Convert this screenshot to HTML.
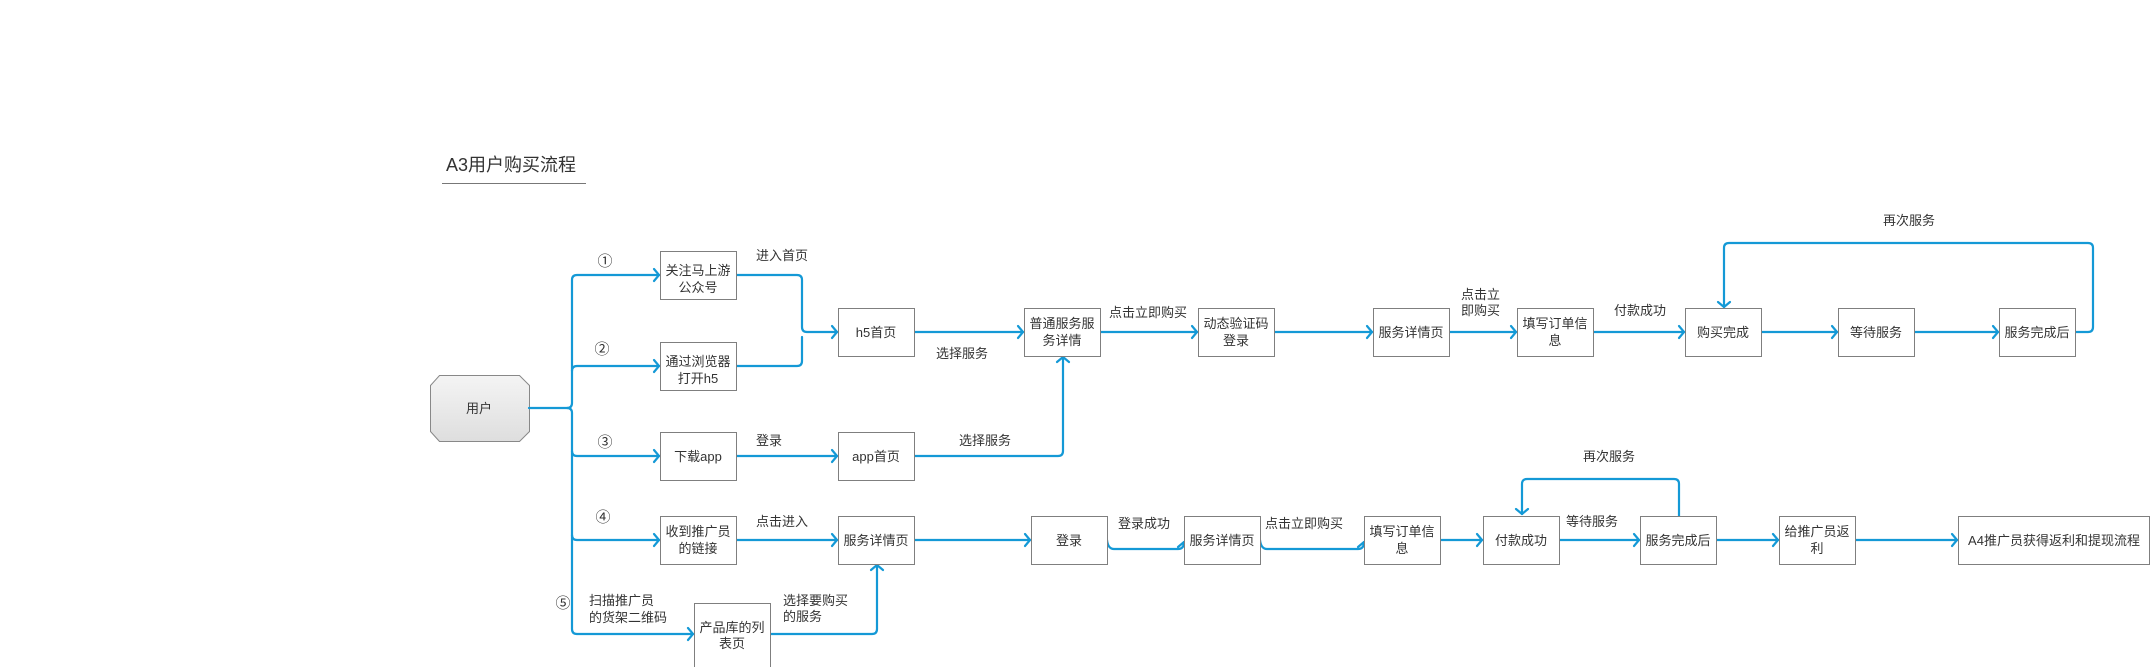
<!DOCTYPE html>
<html><head><meta charset="utf-8"><style>
html,body{margin:0;padding:0;background:#fff;}
svg{display:block;}
text{font-family:"Liberation Sans","Noto Sans CJK SC",sans-serif;fill:#333;font-size:13px;}
.b{fill:#fff;stroke:#7f7f7f;stroke-width:1;}
.c{fill:none;stroke:#1499d6;stroke-width:2.2;stroke-linejoin:round;stroke-linecap:round;}
.m{text-anchor:middle;}
.n{text-anchor:middle;font-size:15px;}
</style></head><body>
<svg width="2151" height="667" viewBox="0 0 2151 667" xmlns="http://www.w3.org/2000/svg">
<defs>
<linearGradient id="g" x1="0" y1="0" x2="0" y2="1"><stop offset="0" stop-color="#f4f4f4"/><stop offset="1" stop-color="#dedede"/></linearGradient>
</defs>
<!-- title -->
<text x="446" y="171" style="font-size:18px">A3用户购买流程</text>
<line x1="442" y1="183.5" x2="586" y2="183.5" stroke="#777" stroke-width="1"/>

<!-- user -->
<polygon points="439.5,375.5 519.5,375.5 529.5,385.5 529.5,431.5 519.5,441.5 439.5,441.5 430.5,431.5 430.5,385.5" fill="url(#g)" stroke="#888" stroke-width="1"/>
<text class="m" x="479" y="413">用户</text>

<!-- connectors -->
<path class="c" d="M529,408 H567 Q572,408 572,403 V280 Q572,275 577,275 H659"/>
<path class="c" d="M572,371 Q572,366 577,366 H659"/>
<path class="c" d="M567,408 Q572,408 572,413 V451 Q572,456 577,456 H659"/>
<path class="c" d="M572,451 V535 Q572,540 577,540 H659"/>
<path class="c" d="M572,535 V629 Q572,634 577,634 H693"/>
<path class="c" d="M736,275 H797 Q802,275 802,280 V327 Q802,332 807,332 H837"/>
<path class="c" d="M736,366 H797 Q802,366 802,361 V337"/>
<path class="c" d="M914,332 H1023"/>
<path class="c" d="M1100,332 H1197"/>
<path class="c" d="M1274,332 H1372"/>
<path class="c" d="M1449,332 H1516"/>
<path class="c" d="M1593,332 H1684"/>
<path class="c" d="M1761,332 H1837"/>
<path class="c" d="M1914,332 H1998"/>
<path class="c" d="M2075,332 H2088 Q2093,332 2093,327 V248 Q2093,243 2088,243 H1729 Q1724,243 1724,248 V307"/>
<path class="c" d="M736,456 H837"/>
<path class="c" d="M914,456 H1058 Q1063,456 1063,451 V357"/>
<path class="c" d="M736,540 H837"/>
<path class="c" d="M914,540 H1030"/>
<path class="c" d="M1107,540 Q1108,549 1114,549 H1178 Q1184,549 1184,542"/>
<path class="c" d="M1260,540 Q1261,549 1267,549 H1358 Q1364,549 1364,542"/>
<path class="c" d="M1440,540 H1482"/>
<path class="c" d="M1559,540 H1639"/>
<path class="c" d="M1679,516 V484 Q1679,479 1674,479 H1527 Q1522,479 1522,484 V514"/>
<path class="c" d="M1716,540 H1778"/>
<path class="c" d="M1855,540 H1957"/>
<path class="c" d="M770,634 H872 Q877,634 877,629 V565"/>

<!-- arrowheads right -->
<g class="c">
<path d="M654,269 L659,275 L654,281"/>
<path d="M654,360 L659,366 L654,372"/>
<path d="M654,450 L659,456 L654,462"/>
<path d="M654,534 L659,540 L654,546"/>
<path d="M688,628 L693,634 L688,640"/>
<path d="M832,326 L837,332 L832,338"/>
<path d="M832,450 L837,456 L832,462"/>
<path d="M832,534 L837,540 L832,546"/>
<path d="M1018,326 L1023,332 L1018,338"/>
<path d="M1192,326 L1197,332 L1192,338"/>
<path d="M1367,326 L1372,332 L1367,338"/>
<path d="M1511,326 L1516,332 L1511,338"/>
<path d="M1679,326 L1684,332 L1679,338"/>
<path d="M1832,326 L1837,332 L1832,338"/>
<path d="M1993,326 L1998,332 L1993,338"/>
<path d="M1025,534 L1030,540 L1025,546"/>
<path d="M1477,534 L1482,540 L1477,546"/>
<path d="M1634,534 L1639,540 L1634,546"/>
<path d="M1773,534 L1778,540 L1773,546"/>
<path d="M1952,534 L1957,540 L1952,546"/>
<!-- up -->
<path d="M1057,362 L1063,357 L1069,362"/>
<path d="M871,570 L877,565 L883,570"/>
<path d="M1178,547 L1184,542 L1190,547"/>
<path d="M1358,547 L1364,542 L1370,547"/>
<!-- down -->
<path d="M1718,302 L1724,307 L1730,302"/>
<path d="M1516,509 L1522,514 L1528,509"/>
</g>

<!-- boxes -->
<rect class="b" x="660.5" y="251.5" width="76" height="48"/>
<text class="m" x="698" y="275">关注马上游</text><text class="m" x="698" y="292">公众号</text>
<rect class="b" x="660.5" y="342.5" width="76" height="48"/>
<text class="m" x="698" y="366">通过浏览器</text><text class="m" x="698" y="383">打开h5</text>
<rect class="b" x="660.5" y="432.5" width="76" height="48"/>
<text class="m" x="698" y="461">下载app</text>
<rect class="b" x="660.5" y="516.5" width="76" height="48"/>
<text class="m" x="698" y="536">收到推广员</text><text class="m" x="698" y="553">的链接</text>
<rect class="b" x="694.5" y="603.5" width="76" height="64"/>
<text class="m" x="732" y="632">产品库的列</text><text class="m" x="732" y="648">表页</text>

<rect class="b" x="838.5" y="308.5" width="76" height="48"/>
<text class="m" x="876" y="337">h5首页</text>
<rect class="b" x="838.5" y="432.5" width="76" height="48"/>
<text class="m" x="876" y="461">app首页</text>
<rect class="b" x="838.5" y="516.5" width="76" height="48"/>
<text class="m" x="876" y="545">服务详情页</text>

<rect class="b" x="1024.5" y="308.5" width="76" height="48"/>
<text class="m" x="1062" y="328">普通服务服</text><text class="m" x="1062" y="345">务详情</text>
<rect class="b" x="1198.5" y="308.5" width="76" height="48"/>
<text class="m" x="1236" y="328">动态验证码</text><text class="m" x="1236" y="345">登录</text>
<rect class="b" x="1373.5" y="308.5" width="76" height="48"/>
<text class="m" x="1411" y="337">服务详情页</text>
<rect class="b" x="1517.5" y="308.5" width="76" height="48"/>
<text class="m" x="1555" y="328">填写订单信</text><text class="m" x="1555" y="345">息</text>
<rect class="b" x="1685.5" y="308.5" width="76" height="48"/>
<text class="m" x="1723" y="337">购买完成</text>
<rect class="b" x="1838.5" y="308.5" width="76" height="48"/>
<text class="m" x="1876" y="337">等待服务</text>
<rect class="b" x="1999.5" y="308.5" width="76" height="48"/>
<text class="m" x="2037" y="337">服务完成后</text>

<rect class="b" x="1031.5" y="516.5" width="76" height="48"/>
<text class="m" x="1069" y="545">登录</text>
<rect class="b" x="1184.5" y="516.5" width="76" height="48"/>
<text class="m" x="1222" y="545">服务详情页</text>
<rect class="b" x="1364.5" y="516.5" width="76" height="48"/>
<text class="m" x="1402" y="536">填写订单信</text><text class="m" x="1402" y="553">息</text>
<rect class="b" x="1483.5" y="516.5" width="76" height="48"/>
<text class="m" x="1521" y="545">付款成功</text>
<rect class="b" x="1640.5" y="516.5" width="76" height="48"/>
<text class="m" x="1678" y="545">服务完成后</text>
<rect class="b" x="1779.5" y="516.5" width="76" height="48"/>
<text class="m" x="1817" y="536">给推广员返</text><text class="m" x="1817" y="553">利</text>
<rect class="b" x="1958.5" y="516.5" width="191" height="48"/>
<text class="m" x="2054" y="545">A4推广员获得返利和提现流程</text>

<!-- labels -->
<text class="n" x="605" y="266">①</text>
<text class="n" x="602" y="354">②</text>
<text class="n" x="605" y="447">③</text>
<text class="n" x="603" y="522">④</text>
<text class="n" x="563" y="608">⑤</text>
<text x="756" y="260">进入首页</text>
<text x="936" y="358">选择服务</text>
<text x="1109" y="317">点击立即购买</text>
<text x="1461" y="299">点击立</text><text x="1461" y="315">即购买</text>
<text x="1614" y="315">付款成功</text>
<text x="1883" y="225">再次服务</text>
<text x="756" y="445">登录</text>
<text x="959" y="445">选择服务</text>
<text x="756" y="526">点击进入</text>
<text x="1118" y="528">登录成功</text>
<text x="1265" y="528">点击立即购买</text>
<text x="1566" y="526">等待服务</text>
<text x="1583" y="461">再次服务</text>
<text x="589" y="605">扫描推广员</text><text x="589" y="622">的货架二维码</text>
<text x="783" y="605">选择要购买</text><text x="783" y="621">的服务</text>
</svg>
</body></html>
